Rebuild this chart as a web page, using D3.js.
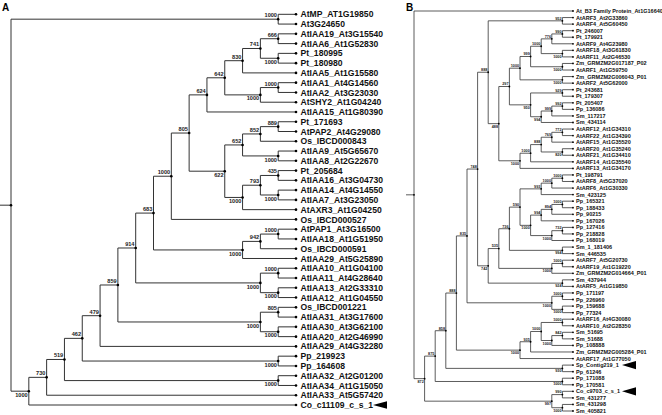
<!DOCTYPE html>
<html><head><meta charset="utf-8">
<script src="https://cdn.jsdelivr.net/npm/d3@7"></script>
<style>body{margin:0;background:#fff}svg{display:block}text{font-family:"Liberation Sans",Arial,sans-serif;font-weight:bold}</style>
</head><body>
<script>
// Panel A clades: [support, child, child]; "@k" refers to clade k
const cladesA = [
 [1000,"AtMP_AT1G19850","At3G24650"],
 [666,"AtIAA19_At3G15540","AtIAA6_At1G52830"],
 [1000,"Pt_180995","Pt_180980"],
 [741,"@1","@2"],
 [830,"@3","AtIAA5_At1G15580"],
 [1000,"AtIAA1_At4G14560","AtIAA2_At3G23030"],
 [1000,"@5","AtSHY2_At1G04240"],
 [642,"@4","@6"],
 [624,"@7","AtIAA15_At1G80390"],
 [889,"Pt_171693","AtPAP2_At4G29080"],
 [852,"@9","Os_IBCD000843"],
 [1000,"AtIAA9_At5G65670","AtIAA8_At2G22670"],
 [652,"@10","@11"],
 [435,"Pt_205684","AtIAA16_At3G04730"],
 [1000,"AtIAA14_At4G14550","AtIAA7_At3G23050"],
 [793,"@13","@14"],
 [1000,"@15","AtAXR3_At1G04250"],
 [622,"@12","@16"],
 [805,"@8","@17"],
 [1000,"@18","Os_IBCD000527"],
 [1000,"AtPAP1_At3G16500","AtIAA18_At1G51950"],
 [942,"@20","Os_IBCD000591"],
 [1000,"@21","AtIAA29_At5G25890"],
 [683,"@19","@22"],
 [1000,"AtIAA10_At1G04100","AtIAA11_At4G28640"],
 [1000,"AtIAA13_At2G33310","AtIAA12_At1G04550"],
 [1000,"@24","@25"],
 [914,"@23","@26"],
 [805,"Os_IBCD001221","AtIAA31_At3G17600"],
 [1000,"AtIAA30_At3G62100","AtIAA20_At2G46990"],
 [1000,"@28","@29"],
 [859,"@27","@30"],
 [479,"@31","AtIAA29_At4G32280"],
 [1000,"Pp_219923","Pp_164608"],
 [462,"@32","@33"],
 [1000,"AtIAA32_At2G01200","AtIAA34_At1G15050"],
 [519,"@34","@35"],
 [730,"@36","AtIAA33_At5G57420"],
 [1000,"@37","Co_c11109_c_s_1"],
 [null,"@0","@38"]
];
// Panel B clades
const cladesB = [
 [952,"AtARF3_At2G33860","AtARF4_At5G60450"],
 [990,"Pt_246007","Pt_179921"],
 [776,"@1","AtARF9_At4G23980"],
 [1000,"AtARF18_At3G61830","AtARF11_At2G46530"],
 [1000,"@2","@3"],
 [1000,"Zm_GRMZM2G017187_P02","AtARF1_At1G59750"],
 [999,"@4","@5"],
 [1000,"Zm_GRMZM2G006043_P01","AtARF2_At5G62000"],
 [1000,"@6","@7"],
 [929,"Pt_243681","Pt_179307"],
 [992,"Pt_205407","Pp_136086"],
 [999,"@10","Sm_117217"],
 [994,"@11","Sm_434114"],
 [950,"@9","@12"],
 [297,"@8","@13"],
 [772,"AtARF12_At1G34310","AtARF22_At1G34390"],
 [769,"@15","AtARF15_At1G35520"],
 [820,"AtARF20_At1G35240","AtARF21_At1G34410"],
 [888,"@16","@17"],
 [1000,"@18","AtARF14_At1G35540"],
 [1000,"@19","AtARF13_At1G34170"],
 [488,"@14","@20"],
 [888,"@0","@21"],
 [1000,"Pt_198791","AtARF8_At5G37020"],
 [1000,"@23","AtARF6_At1G30330"],
 [993,"@24","Sm_423125"],
 [1000,"Pp_165321","Pp_188433"],
 [894,"@26","Pp_90215"],
 [994,"@27","Pp_167026"],
 [732,"Pp_127416","Pp_218828"],
 [1000,"@29","Pp_168019"],
 [1000,"@28","@30"],
 [590,"@25","@31"],
 [994,"Sm_1_181406","Sm_446535"],
 [736,"@32","@33"],
 [1000,"AtARF7_At5G20730","AtARF19_At1G19220"],
 [1000,"@35","Zm_GRMZM2G014664_P01"],
 [535,"@34","@36"],
 [924,"Sm_437944","AtARF5_At1G19850"],
 [742,"@37","@38"],
 [748,"@22","@39"],
 [1000,"Pp_171197","Pp_226960"],
 [1000,"Pp_159688","Pp_77324"],
 [1000,"@41","@42"],
 [835,"@40","@43"],
 [1000,"AtARF16_At4G30080","AtARF10_At2G28350"],
 [842,"Sm_51695","Sm_51688"],
 [1000,"@46","Pp_108888"],
 [1000,"@45","@47"],
 [935,"@48","Zm_GRMZM2G005284_P01"],
 [1000,"@49","AtARF17_At1G77050"],
 [888,"@44","@50"],
 [930,"Sp_Contig219_1","Pp_61246"],
 [858,"@51","@52"],
 [1000,"Pp_171088","Pp_170581"],
 [875,"@53","@54"],
 [990,"Co_c9703_c_s_1","Sm_431277"],
 [1000,"Sm_431298","Sm_405821"],
 [997,"@56","@57"],
 [872,"@55","@58"],
 [null,"At_B3 Family Protein_At1G16640","@59"]
];
const markedA = ["Co_c11109_c_s_1"];
const markedB = ["Sp_Contig219_1","Co_c9703_c_s_1"];
const panelLabels = ["A","B"];

const W = 662, H = 415;
const svg = d3.select("body").append("svg").attr("width",W).attr("height",H);

function build(clades){
  function mk(ref){
    if (typeof ref === "string" && ref[0] === "@") {
      const c = clades[+ref.slice(1)];
      return {support:c[0], children:c.slice(1).map(mk)};
    }
    return {name:ref};
  }
  return d3.hierarchy(mk("@"+(clades.length-1)));
}

function drawTree(cfg){
  const root = build(cfg.clades);
  const leaves = root.leaves();
  const y = d3.scaleLinear().domain([0, leaves.length-1]).range(cfg.yRange);
  const x = d3.scaleLinear().domain([root.height, 0]).range(cfg.xRange);
  leaves.forEach((l,i)=>{ l.py = y(i); });
  root.eachAfter(n=>{ if(n.children) n.py = d3.mean(n.children, c=>c.py); n.px = x(n.height); });
  const g = svg.append("g");
  g.append("line").attr("x1",cfg.stubX).attr("x2",root.px).attr("y1",root.py).attr("y2",root.py)
    .attr("stroke",cfg.stroke).attr("stroke-width",cfg.sw);
  g.selectAll("path.br").data(root.descendants().filter(d=>d.parent)).join("path")
    .attr("fill","none").attr("stroke",cfg.stroke).attr("stroke-width",cfg.sw)
    .attr("d",d=>`M${d.parent.px},${d.parent.py}V${d.py}H${d.px}`);
  g.selectAll("circle").data(root.descendants()).join("circle")
    .attr("cx",d=>d.px).attr("cy",d=>d.py).attr("r",cfg.r).attr("fill","#000");
  g.selectAll("text.leaf").data(leaves).join("text")
    .attr("x",d=>d.px+cfg.labDx).attr("y",d=>d.py).attr("dy","0.36em")
    .attr("font-size",cfg.fs).attr("fill","#111").text(d=>d.data.name);
  g.selectAll("text.bs").data(root.descendants().filter(d=>d.children && d.parent && d.data.support!=null)).join("text")
    .attr("x",d=>d.px-cfg.bsDx)
    .attr("y",d=> d.parent.children[0]===d ? d.py-cfg.bsUp : d.py+cfg.bsDown)
    .attr("text-anchor","end").attr("font-size",cfg.bfs).attr("fill","#222")
    .text(d=>d.data.support);
  g.selectAll("path.tri").data(leaves.filter(l=>cfg.marked.includes(l.data.name))).join("path")
    .attr("fill","#000")
    .attr("d",d=>{const t=d.px+cfg.triDx; return `M${t},${d.py}L${t+cfg.triW},${d.py-cfg.triH}L${t+cfg.triW},${d.py+cfg.triH}Z`;});
}

drawTree({clades:cladesA, xRange:[11,296], yRange:[14.3,405], stubX:0, stroke:"#333", sw:1, r:1.3,
  labDx:4.5, fs:8.6, bfs:5.6, bsDx:1.2, bsUp:2, bsDown:5.6, marked:markedA, triDx:77, triW:14, triH:3.8});
drawTree({clades:cladesB, xRange:[414,573], yRange:[11,411], stubX:406, stroke:"#333", sw:0.8, r:0.9,
  labDx:3, fs:5.5, bfs:3.8, bsDx:0.8, bsUp:1.2, bsDown:4, marked:markedB, triDx:49, triW:14, triH:4.2});

svg.selectAll("text.panel").data(panelLabels).join("text")
  .attr("x",(d,i)=>i===0?2:406).attr("y",10.5).attr("font-size",10).attr("fill","#000").text(d=>d);
</script>
</body></html>
